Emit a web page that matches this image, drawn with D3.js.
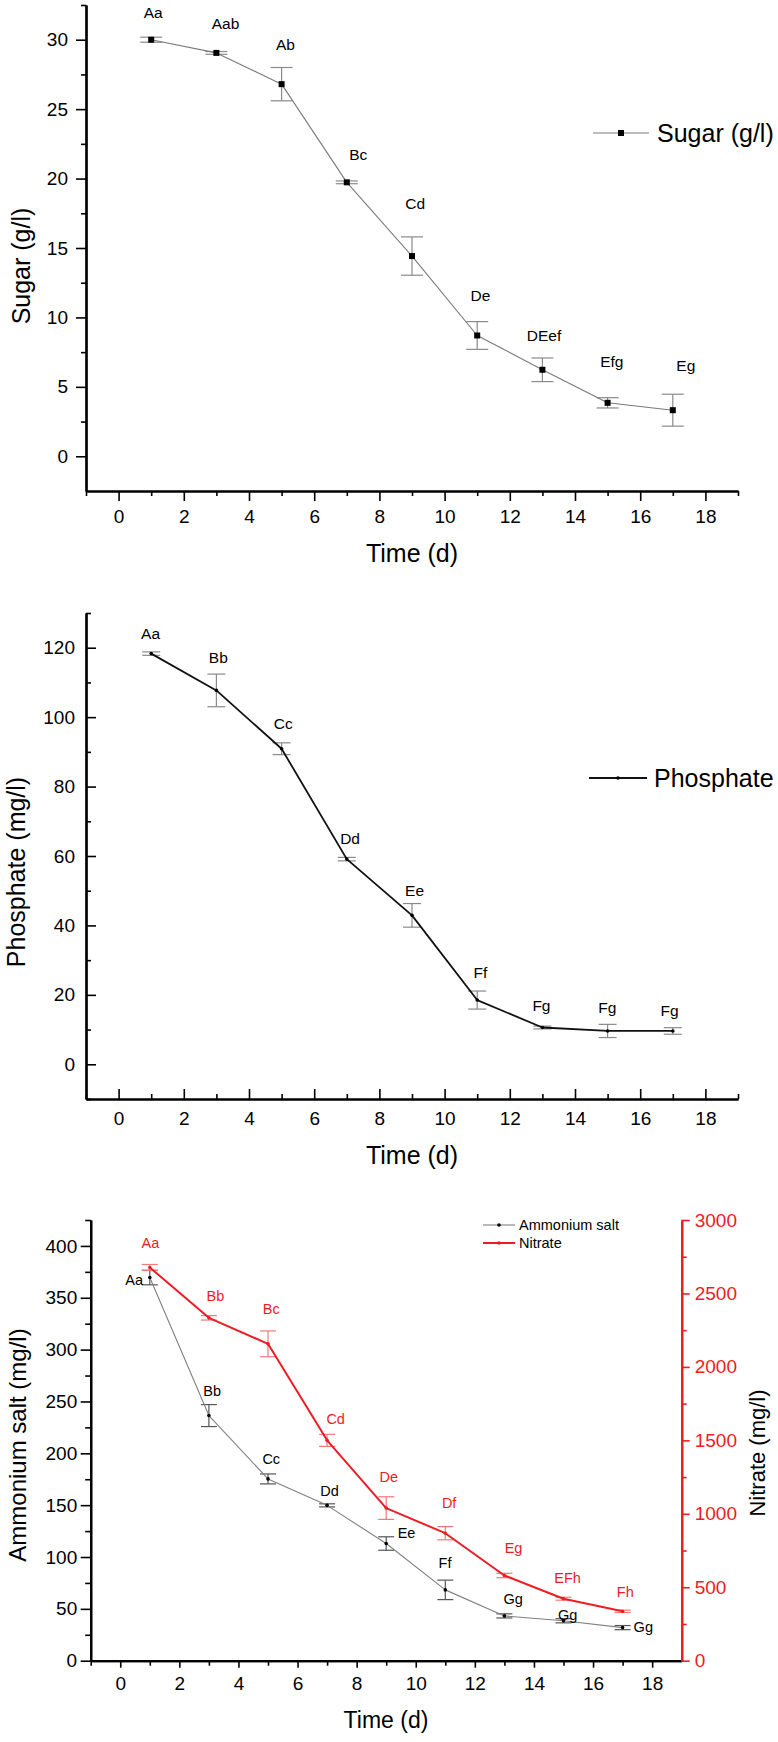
<!DOCTYPE html>
<html>
<head>
<meta charset="utf-8">
<script src="https://cdn.jsdelivr.net/npm/d3@7"></script>
<style>
  html, body { margin: 0; padding: 0; background: #fff; }
  svg { display: block; font-family: "Liberation Sans", Arial, sans-serif; }
</style>
</head>
<body>
<svg id="chart" width="778" height="1742"></svg>
<script>
// ---------------- data ----------------
const days = [1, 3, 5, 7, 9, 11, 13, 15, 17];

const sugar = [30.0, 29.05, 26.8, 19.73, 14.42, 8.7, 6.23, 3.85, 3.32];
const sugarErr = [0.18, 0.1, 1.2, 0.1, 1.38, 1.0, 0.85, 0.37, 1.15];
const sugarLabels = ["Aa", "Aab", "Ab", "Bc", "Cd", "De", "DEef", "Efg", "Eg"];
const sugarLabelX = [1.06, 3.28, 5.12, 7.35, 9.1, 11.1, 13.05, 15.13, 17.4];
const sugarLabelY = [31.92, 31.13, 29.63, 21.75, 18.22, 11.54, 8.72, 6.81, 6.56];

const phosphate = [118.3, 107.7, 90.9, 59.1, 42.9, 18.5, 10.6, 9.6, 9.6];
const phosphateErr = [0.5, 4.7, 1.7, 0.5, 3.4, 2.6, 0.4, 1.9, 0.95];
const phosphateLabels = ["Aa", "Bb", "Cc", "Dd", "Ee", "Ff", "Fg", "Fg", "Fg"];
const phosphateLabelX = [0.98, 3.06, 5.05, 7.1, 9.08, 11.1, 12.97, 14.99, 16.9];
const phosphateLabelY = [124.0, 117.1, 98.1, 65.0, 50.1, 26.4, 16.9, 16.2, 15.4];

const ammonium = [369.5, 236.4, 175.3, 149.8, 113.0, 68.3, 43.2, 38.5, 31.9];
const ammoniumErr = [7, 10.6, 4.8, 1.5, 6.5, 9.4, 2, 2, 2];
const ammoniumLabels = ["Aa", "Bb", "Cc", "Dd", "Ee", "Ff", "Gg", "Gg", "Gg"];
const ammoniumLabelX = [0.47, 3.11, 5.11, 7.08, 9.69, 10.99, 13.3, 15.14, 17.7];
const ammoniumLabelY = [366.8, 259.9, 194.6, 164.0, 123.1, 94.7, 59.3, 44.2, 32.9];

const nitrate = [2677, 2334, 2157, 1500, 1039, 868, 580, 422, 336];
const nitrateErr = [20, 15, 88, 41, 77, 45, 15, 10, 8];
const nitrateLabels = ["Aa", "Bb", "Bc", "Cd", "De", "Df", "Eg", "EFh", "Fh"];
const nitrateLabelX = [1.02, 3.22, 5.11, 7.29, 9.09, 11.13, 13.31, 15.14, 17.09];
const nitrateLabelY = [2846, 2484, 2398, 1648, 1250, 1072, 766, 561, 470];

const xMajor = [0, 2, 4, 6, 8, 10, 12, 14, 16, 18];
const xMinor = [-1, 1, 3, 5, 7, 9, 11, 13, 15, 17, 19];
const sugarMajor = [0, 5, 10, 15, 20, 25, 30];
const sugarMinor = [2.5, 7.5, 12.5, 17.5, 22.5, 27.5, 32.5];
const phosMajor = [0, 20, 40, 60, 80, 100, 120];
const phosMinor = [-10, 10, 30, 50, 70, 90, 110, 130];
const ammMajor = [0, 50, 100, 150, 200, 250, 300, 350, 400];
const ammMinor = [25, 75, 125, 175, 225, 275, 325, 375, 425];
const nitMajor = [0, 500, 1000, 1500, 2000, 2500, 3000];
const nitMinor = [250, 750, 1250, 1750, 2250, 2750];

// ---------------- helpers ----------------
const svg = d3.select("#chart");
svg.append("rect").attr("width", 778).attr("height", 1742).attr("fill", "#fff");

const RED = "#ee1c25";
const RED_LIGHT = "#f07a7a";

function styleAxis(g, color, domainW) {
  g.select(".domain").attr("stroke", color).attr("stroke-width", domainW);
  g.selectAll(".tick line").attr("stroke", color).attr("stroke-width", 1.6);
  g.selectAll(".tick text").attr("fill", color).attr("font-family", "'Liberation Sans', Arial, sans-serif");
}

function addAxis(axisFn, scale, major, minor, pos, opt) {
  const { majorLen, minorLen, pad, fontSize, color } = opt;
  const minorAx = axisFn(scale).tickValues(minor).tickFormat("").tickSize(minorLen).tickSizeOuter(0);
  const gm = svg.append("g").attr("transform", pos).call(minorAx);
  styleAxis(gm, color, 2.2);
  const majorAx = axisFn(scale).tickValues(major).tickFormat(d3.format("d")).tickSize(majorLen).tickPadding(pad).tickSizeOuter(0);
  const g = svg.append("g").attr("transform", pos).call(majorAx);
  styleAxis(g, color, 2.2);
  g.selectAll(".tick text").attr("font-size", fontSize);
  return g;
}

function errorBars(x, y, vals, errs, cap, color, w) {
  const g = svg.append("g");
  days.forEach((d, i) => {
    const cx = x(d), y1 = y(vals[i] + errs[i]), y2 = y(vals[i] - errs[i]);
    g.append("line").attr("x1", cx).attr("x2", cx).attr("y1", y1).attr("y2", y2)
      .attr("stroke", color).attr("stroke-width", w);
    g.append("line").attr("x1", cx - cap).attr("x2", cx + cap).attr("y1", y1).attr("y2", y1)
      .attr("stroke", color).attr("stroke-width", w);
    g.append("line").attr("x1", cx - cap).attr("x2", cx + cap).attr("y1", y2).attr("y2", y2)
      .attr("stroke", color).attr("stroke-width", w);
  });
}

function seriesLine(x, y, vals, color, w) {
  const line = d3.line().x((d, i) => x(days[i])).y(d => y(d));
  svg.append("path").datum(vals).attr("d", line).attr("fill", "none")
    .attr("stroke", color).attr("stroke-width", w).attr("stroke-linejoin", "round");
}

function dots(x, y, vals, color, r) {
  svg.append("g").selectAll("circle").data(vals).join("circle")
    .attr("cx", (d, i) => x(days[i])).attr("cy", d => y(d)).attr("r", r).attr("fill", color);
}

function annotations(x, y, labels, lx, ly, color, size) {
  svg.append("g").selectAll("text").data(labels).join("text")
    .attr("x", (d, i) => x(lx[i])).attr("y", (d, i) => y(ly[i]))
    .attr("dy", "0.35em").attr("text-anchor", "middle")
    .attr("font-size", size).attr("fill", color).text(d => d);
}

function title(text, x, y, size, rotate, color) {
  const t = svg.append("text").attr("font-size", size).attr("fill", color || "#000")
    .attr("text-anchor", "middle").attr("dy", "0.35em").text(text);
  if (rotate) t.attr("transform", `translate(${x},${y}) rotate(-90)`);
  else t.attr("x", x).attr("y", y);
}

// ---------------- Panel 1: Sugar ----------------
{
  const x = d3.scaleLinear().domain([-1, 19]).range([86, 738]);
  const y = d3.scaleLinear().domain([-2.5, 32.5]).range([491, 5]);

  addAxis(d3.axisBottom, x, xMajor, xMinor, `translate(0,${y(-2.5)})`,
    { majorLen: 10, minorLen: 5, pad: 9, fontSize: 19, color: "#000" });
  addAxis(d3.axisLeft, y, sugarMajor, sugarMinor, `translate(${x(-1)},0)`,
    { majorLen: 10, minorLen: 5, pad: 8, fontSize: 19, color: "#000" });

  errorBars(x, y, sugar, sugarErr, 11, "#8a8a8a", 1.2);
  seriesLine(x, y, sugar, "#7a7a7a", 1.1);
  svg.append("g").selectAll("rect").data(sugar).join("rect")
    .attr("x", (d, i) => x(days[i]) - 3).attr("y", d => y(d) - 3)
    .attr("width", 6).attr("height", 6).attr("fill", "#000");
  annotations(x, y, sugarLabels, sugarLabelX, sugarLabelY, "#000", 15.5);

  title("Time (d)", 412, 553, 25, false);
  title("Sugar (g/l)", 21, 266, 25, true);

  // legend
  svg.append("line").attr("x1", 593).attr("x2", 649).attr("y1", 133).attr("y2", 133)
    .attr("stroke", "#7a7a7a").attr("stroke-width", 1.1);
  svg.append("rect").attr("x", 618).attr("y", 130).attr("width", 6).attr("height", 6).attr("fill", "#000");
  svg.append("text").attr("x", 657).attr("y", 133).attr("dy", "0.35em")
    .attr("font-size", 25).text("Sugar (g/l)");
}

// ---------------- Panel 2: Phosphate ----------------
{
  const x = d3.scaleLinear().domain([-1, 19]).range([86, 738]);
  const y = d3.scaleLinear().domain([-10, 130]).range([1099, 613]);

  addAxis(d3.axisBottom, x, xMajor, xMinor, `translate(0,${y(-10)})`,
    { majorLen: -10, minorLen: -5, pad: 12.5, fontSize: 19, color: "#000" });
  addAxis(d3.axisLeft, y, phosMajor, phosMinor, `translate(${x(-1)},0)`,
    { majorLen: -10, minorLen: -5, pad: 11, fontSize: 19, color: "#000" });

  errorBars(x, y, phosphate, phosphateErr, 9, "#8a8a8a", 1.2);
  seriesLine(x, y, phosphate, "#111", 1.8);
  dots(x, y, phosphate, "#000", 1.8);
  annotations(x, y, phosphateLabels, phosphateLabelX, phosphateLabelY, "#000", 15.5);

  title("Time (d)", 412, 1155, 25, false);
  title("Phosphate (mg/l)", 16, 872, 25, true);

  svg.append("line").attr("x1", 589).attr("x2", 647).attr("y1", 778).attr("y2", 778)
    .attr("stroke", "#111").attr("stroke-width", 1.8);
  svg.append("circle").attr("cx", 618).attr("cy", 778).attr("r", 1.8).attr("fill", "#000");
  svg.append("text").attr("x", 654).attr("y", 778).attr("dy", "0.35em")
    .attr("font-size", 25).text("Phosphate");
}

// ---------------- Panel 3: Ammonium salt & Nitrate ----------------
{
  const x = d3.scaleLinear().domain([-1, 19]).range([90.7, 681.7]);
  const yL = d3.scaleLinear().domain([0, 425]).range([1660.7, 1220]);
  const yR = d3.scaleLinear().domain([0, 3000]).range([1660.7, 1220]);

  addAxis(d3.axisBottom, x, xMajor, xMinor.slice(0, -1), `translate(0,${yL(0)})`,
    { majorLen: 7, minorLen: 5, pad: 9, fontSize: 19, color: "#000" });
  addAxis(d3.axisLeft, yL, ammMajor, ammMinor, `translate(${x(-1)},0)`,
    { majorLen: 10, minorLen: 5.5, pad: 3.5, fontSize: 19, color: "#000" });
  addAxis(d3.axisRight, yR, nitMajor, nitMinor, `translate(${x(19)},0)`,
    { majorLen: 8, minorLen: 5, pad: 5, fontSize: 19, color: RED });

  errorBars(x, yL, ammonium, ammoniumErr, 8, "#555", 1.2);
  seriesLine(x, yL, ammonium, "#808080", 1.1);
  dots(x, yL, ammonium, "#000", 1.8);

  errorBars(x, yR, nitrate, nitrateErr, 8, RED_LIGHT, 1.2);
  seriesLine(x, yR, nitrate, RED, 2);
  dots(x, yR, nitrate, RED, 1.8);

  annotations(x, yL, ammoniumLabels, ammoniumLabelX, ammoniumLabelY, "#000", 14.5);
  annotations(x, yR, nitrateLabels, nitrateLabelX, nitrateLabelY, RED, 14.5);

  title("Time (d)", 386, 1720, 23, false);
  title("Ammonium salt (mg/l)", 18, 1445, 24, true);
  title("Nitrate (mg/l)", 757, 1453, 22, true);

  // legend
  const legend = [["Ammonium salt", "#808080", "#000", 1.1, 1225], ["Nitrate", RED, RED, 2, 1243]];
  legend.forEach(([name, lc, dc, w, ly]) => {
    svg.append("line").attr("x1", 483).attr("x2", 515).attr("y1", ly).attr("y2", ly)
      .attr("stroke", lc).attr("stroke-width", w);
    svg.append("circle").attr("cx", 499).attr("cy", ly).attr("r", 1.8).attr("fill", dc);
    svg.append("text").attr("x", 519).attr("y", ly).attr("dy", "0.35em")
      .attr("font-size", 14.5).attr("fill", "#000").text(name);
  });
}
</script>
</body>
</html>
